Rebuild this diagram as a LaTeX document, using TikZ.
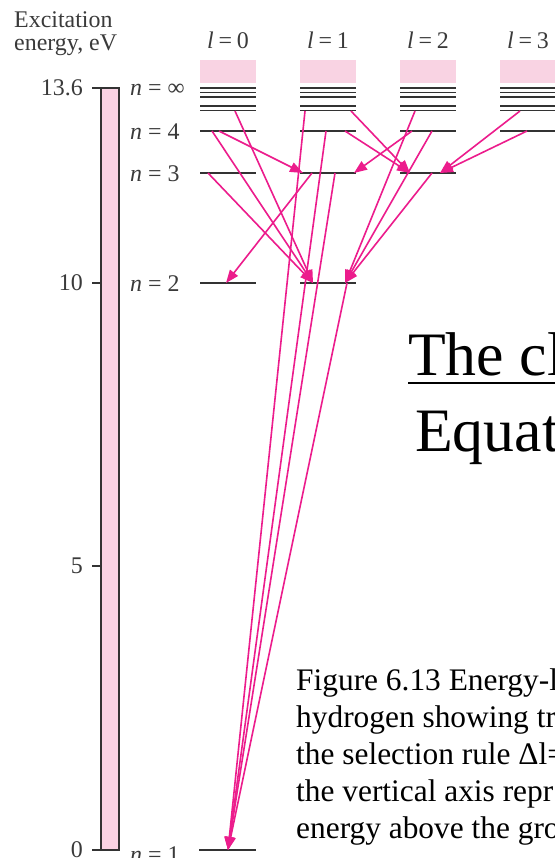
\documentclass[tikz,border=0pt]{standalone}
\usepackage{fontspec}
\setmainfont{Liberation Serif}
\usetikzlibrary{arrows.meta}
\definecolor{pinkfill}{HTML}{F9D3E3}
\definecolor{arrowpink}{HTML}{EC1C8C}
\definecolor{levelgray}{HTML}{333333}
\definecolor{labelgray}{HTML}{3A3A3A}
\begin{document}
\begin{tikzpicture}[x=1bp,y=-1bp,
  levelline/.style={draw=levelgray, line width=1.7bp},
  stackline/.style={draw=levelgray, line width=1.4bp},
  trans/.style={draw=arrowpink, line width=1.6bp, -{Triangle[length=13bp,width=10bp]}},
  lbl/.style={font=\fontsize{24}{26}\selectfont, text=labelgray, inner sep=0pt},
  captext/.style={font=\fontsize{31.5}{37}\selectfont, text=black, inner sep=0pt, anchor=base west},
  bigtext/.style={font=\fontsize{62}{70}\selectfont, text=black, inner sep=0pt, anchor=base west}]
\useasboundingbox (0,0) rectangle (555,858);
\fill[white] (0,0) rectangle (555,858);

% axis title
\node[lbl, anchor=base west] (ttl1) at (14,27) {Excitation};
\node[lbl, anchor=base west] (ttl2) at (14,50) {energy, eV};

% energy bar and ticks
\draw[levelgray, fill=pinkfill, line width=1.5bp] (101,88) rectangle (119,850);
\foreach \yy/\tx/\nm in {88/13.6/e136, 283/10/e10, 566/5/e5, 850/0/e0}{
  \draw[levelgray, line width=1.5bp] (92,\yy) -- (101,\yy);
  \node[lbl, anchor=east] (\nm) at (83,\yy) {\tx};
}

% n labels
\node[lbl, anchor=west] (ninf) at (130,90) {\textit{n} = ∞};
\node[lbl, anchor=west] (n4) at (130,132) {\textit{n} = 4};
\node[lbl, anchor=west] (n3) at (130,174) {\textit{n} = 3};
\node[lbl, anchor=west] (n2) at (130,284) {\textit{n} = 2};
\node[lbl, anchor=west] (n1) at (130,855) {\textit{n} = 1};

% l labels, pink bands, stacks
\foreach \xx/\ll in {200/0, 300/1, 400/2, 500/3}{
  \node[lbl] (lab\ll) at (\xx+28,40) {\textit{l}\hspace{0.2em}=\hspace{0.2em}\ll};
  \fill[pinkfill] (\xx,60) rectangle (\xx+56,83);
  \foreach \yy in {88,92.5,97,106,110.5}{
    \draw[stackline] (\xx,\yy) -- (\xx+56,\yy);
  }
  \draw[levelline] (\xx,131) -- (\xx+56,131);
}
% n=3
\draw[levelline] (200,173) -- (256,173);
\draw[levelline] (300,173) -- (356,173);
\draw[levelline] (400,173) -- (456,173);
% n=2
\draw[levelline] (200,283) -- (256,283);
\draw[levelline] (300,283) -- (356,283);
% n=1
\draw[levelline] (199,850) -- (256,850);

% transition end points
\coordinate (s5) at (235,111);
\coordinate (s4a) at (212,131);
\coordinate (s4b) at (219,131);
\coordinate (s3) at (208,173);
\coordinate (s2end) at (226,283);
\coordinate (s1end) at (228,850);
\coordinate (p5a) at (305,111);
\coordinate (p5b) at (351,111);
\coordinate (p4a) at (326,131);
\coordinate (p4b) at (345,131);
\coordinate (p3a) at (312,173);
\coordinate (p3b) at (335,173);
\coordinate (p3endL) at (303,173);
\coordinate (p3endR) at (354,173);
\coordinate (p2endL) at (313,283);
\coordinate (p2endR) at (345,283);
\coordinate (p2) at (347,283);
\coordinate (d5) at (415,111);
\coordinate (d4a) at (412,131);
\coordinate (d4b) at (432,131);
\coordinate (d3) at (432,173);
\coordinate (d3endL) at (410,173);
\coordinate (d3endR) at (440,173);
\coordinate (f5) at (520,111);
\coordinate (f4) at (527,131);

% transitions
\draw[trans] (s4b) -- (p3endL);
\draw[trans] (s4a) -- (p2endL);
\draw[trans] (s5) -- (p2endL);
\draw[trans] (s3) -- (p2endL);
\draw[trans] (p3a) -- (s2end);
\draw[trans] (d4a) -- (p3endR);
\draw[trans] (d5) -- (p2endR);
\draw[trans] (d4b) -- (p2endR);
\draw[trans] (d3) -- (p2endR);
\draw[trans] (p4b) -- (d3endL);
\draw[trans] (p5b) -- (d3endL);
\draw[trans] (f4) -- (d3endR);
\draw[trans] (f5) -- (d3endR);
\draw[trans] (p5a) -- (s1end);
\draw[trans] (p4a) -- (s1end);
\draw[trans] (p3b) -- (s1end);
\draw[trans] (p2) -- (s1end);

% overlay title
\node[bigtext] (t1) at (408,375) {The cl};
\draw[line width=2.5bp] ([yshift=-8bp]t1.base west) -- ++(160,0);
\node[bigtext] (t2) at (415,451) {Equat};

% caption
\node[captext] (c1) at (296,690) {Figure 6.13 Energy-l};
\node[captext] (c2) at (296,727) {hydrogen showing tr};
\node[captext] (c3) at (296,764) {the selection rule Δl=};
\node[captext] (c4) at (296,801) {the vertical axis repr};
\node[captext] (c5) at (296,838) {energy above the gro};
\end{tikzpicture}
\end{document}
